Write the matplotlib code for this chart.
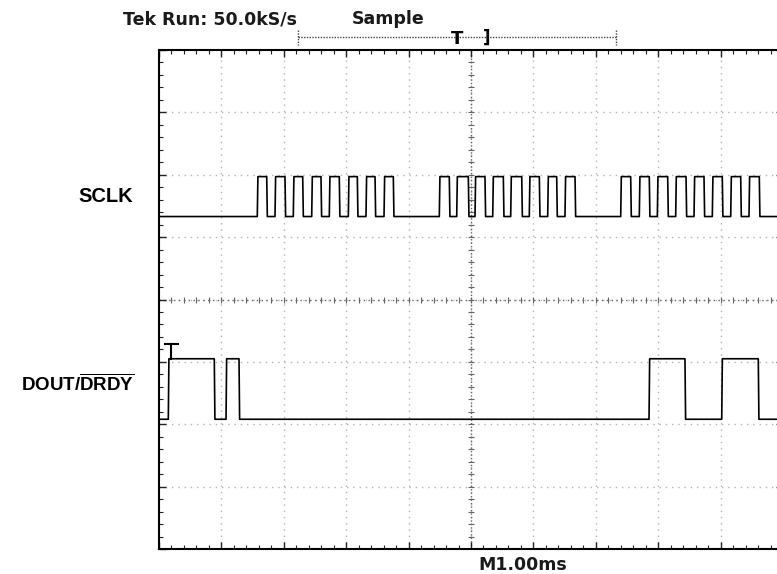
import numpy as np
import matplotlib
matplotlib.use('Agg')
import matplotlib.pyplot as plt

plt.rcParams['mathtext.fontset'] = 'custom'
plt.rcParams['mathtext.rm'] = 'Liberation Sans:bold'
plt.rcParams['mathtext.bf'] = 'Liberation Sans:bold'

# time in ms (1 ms/div), amplitude in screen divisions (centre = 0)
sclk_rise = [1.575, 1.859, 2.152, 2.447, 2.729, 3.034, 3.317, 3.606,
             4.492, 4.771, 5.064, 5.348, 5.636, 5.934, 6.229, 6.506,
             7.399, 7.697, 7.986, 8.280, 8.574, 8.867, 9.162, 9.455]
sclk_fall = [1.726, 2.019, 2.303, 2.596, 2.889, 3.178, 3.462, 3.755,
             4.652, 4.957, 5.224, 5.518, 5.813, 6.095, 6.373, 6.667,
             7.559, 7.857, 8.152, 8.446, 8.734, 9.027, 9.322, 9.620]
sclk_low, sclk_high = 1.33, 1.97

dout_rise = [0.149, 1.074, 7.853, 9.018]
dout_fall = [0.886, 1.282, 8.429, 9.604]
dout_low, dout_high = -1.92, -0.95

header = 'Tek Run: 50.0kS/s'
mode = 'Sample'
timebase = 'M1.00ms'
W, H = 777, 574


def steps(rise, fall, lo, hi, t0=0.0, t1=10.0):
    t, v = [t0], [lo]
    for r, f in zip(rise, fall):
        t += [r, r + 0.01, f, f + 0.01]
        v += [lo, hi, hi, lo]
    t.append(t1)
    v.append(lo)
    return np.array(t), np.array(v)


fig = plt.figure(figsize=(W / 100, H / 100), dpi=100)
ax = fig.add_axes([159 / W, 25 / H, 624 / W, 499 / H])
ax.set_xlim(0, 10)
ax.set_ylim(-4, 4)

# graticule
for gx in range(1, 10):
    ax.axvline(gx, color='#b4b4b4', lw=1, ls=(0, (1, 3.5)), zorder=1)
for gy in range(-3, 4):
    ax.axhline(gy, color='#b4b4b4', lw=1, ls=(0, (1, 3.5)), zorder=1)
ax.axvline(5, color='#666666', lw=1, ls=(0, (1, 1.5)), zorder=1)
ax.axhline(0, color='#666666', lw=1, ls=(0, (1, 2.5)), zorder=1)
mt = np.arange(0.2, 10, 0.2)
ax.plot(mt, np.zeros_like(mt), ls='none', marker='|', ms=5, mew=0.8, color='#666666', zorder=1)
mv = np.arange(-3.8, 4, 0.2)
ax.plot(np.full_like(mv, 5), mv, ls='none', marker='_', ms=5, mew=0.8, color='#666666', zorder=1)

ax.set_xticks(range(0, 11))
ax.set_yticks(range(-4, 5))
ax.set_xticks(np.arange(0, 10.01, 0.2), minor=True)
ax.set_yticks(np.arange(-4, 4.01, 0.2), minor=True)
ax.tick_params(which='both', direction='in', top=True, right=True,
               labelbottom=False, labelleft=False, color='#222222')
ax.tick_params(which='major', length=5, width=1)
ax.tick_params(which='minor', length=3, width=0.8)
for s in ax.spines.values():
    s.set_linewidth(1.5)

# traces
t, v = steps(sclk_rise, sclk_fall, sclk_low, sclk_high)
ax.plot(t, v, color='black', lw=1.2, zorder=3)
t, v = steps(dout_rise, dout_fall, dout_low, dout_high)
ax.plot(t, v, color='black', lw=1.2, zorder=3)

# trigger level marker
tx = dout_rise[0] + 0.05
ax.plot([tx - 0.1, tx + 0.1], [dout_high + 0.23, dout_high + 0.23], color='black', lw=1.5, zorder=4)
ax.plot([tx, tx], [dout_high + 0.23, dout_high], color='black', lw=1.5, zorder=4)

# header and record bar
fig.text(123 / W, 1 - 19 / H, header, fontsize=12.5, fontweight='bold', va='center', ha='left', color='#1a1a1a')
fig.text(352 / W, 1 - 19 / H, mode, fontsize=12.5, fontweight='bold', va='center', ha='left', color='#1a1a1a')
fig.lines.append(plt.Line2D([298 / W, 616 / W], [1 - 37 / H, 1 - 37 / H], transform=fig.transFigure,
                            color='#444444', lw=1, ls=(0, (1, 1))))
for bx in (298, 616):
    fig.lines.append(plt.Line2D([bx / W, bx / W], [1 - 30 / H, 1 - 45 / H], transform=fig.transFigure,
                                color='#444444', lw=1, ls=(0, (1, 1))))
fig.text(457 / W, 1 - 39 / H, 'T', fontsize=13, fontweight='bold', ha='center', va='center')
fig.text(487 / W, 1 - 38 / H, ']', fontsize=12, fontweight='bold', ha='center', va='center')
fig.text(523 / W, 1 - 565 / H, timebase, fontsize=12.5, fontweight='bold', ha='center', va='center',
         color='#1a1a1a')

# channel labels
fig.text(133 / W, 1 - 196 / H, 'SCLK', fontsize=14.5, fontweight='bold',
         family='Liberation Sans', ha='right', va='center')
fig.text(134 / W, 1 - 384 / H, r'DOUT/$\overline{\mathrm{DRDY}}$', fontsize=13.5, fontweight='bold',
         family='Liberation Sans', ha='right', va='center')

fig.savefig('out.png', dpi=100)
